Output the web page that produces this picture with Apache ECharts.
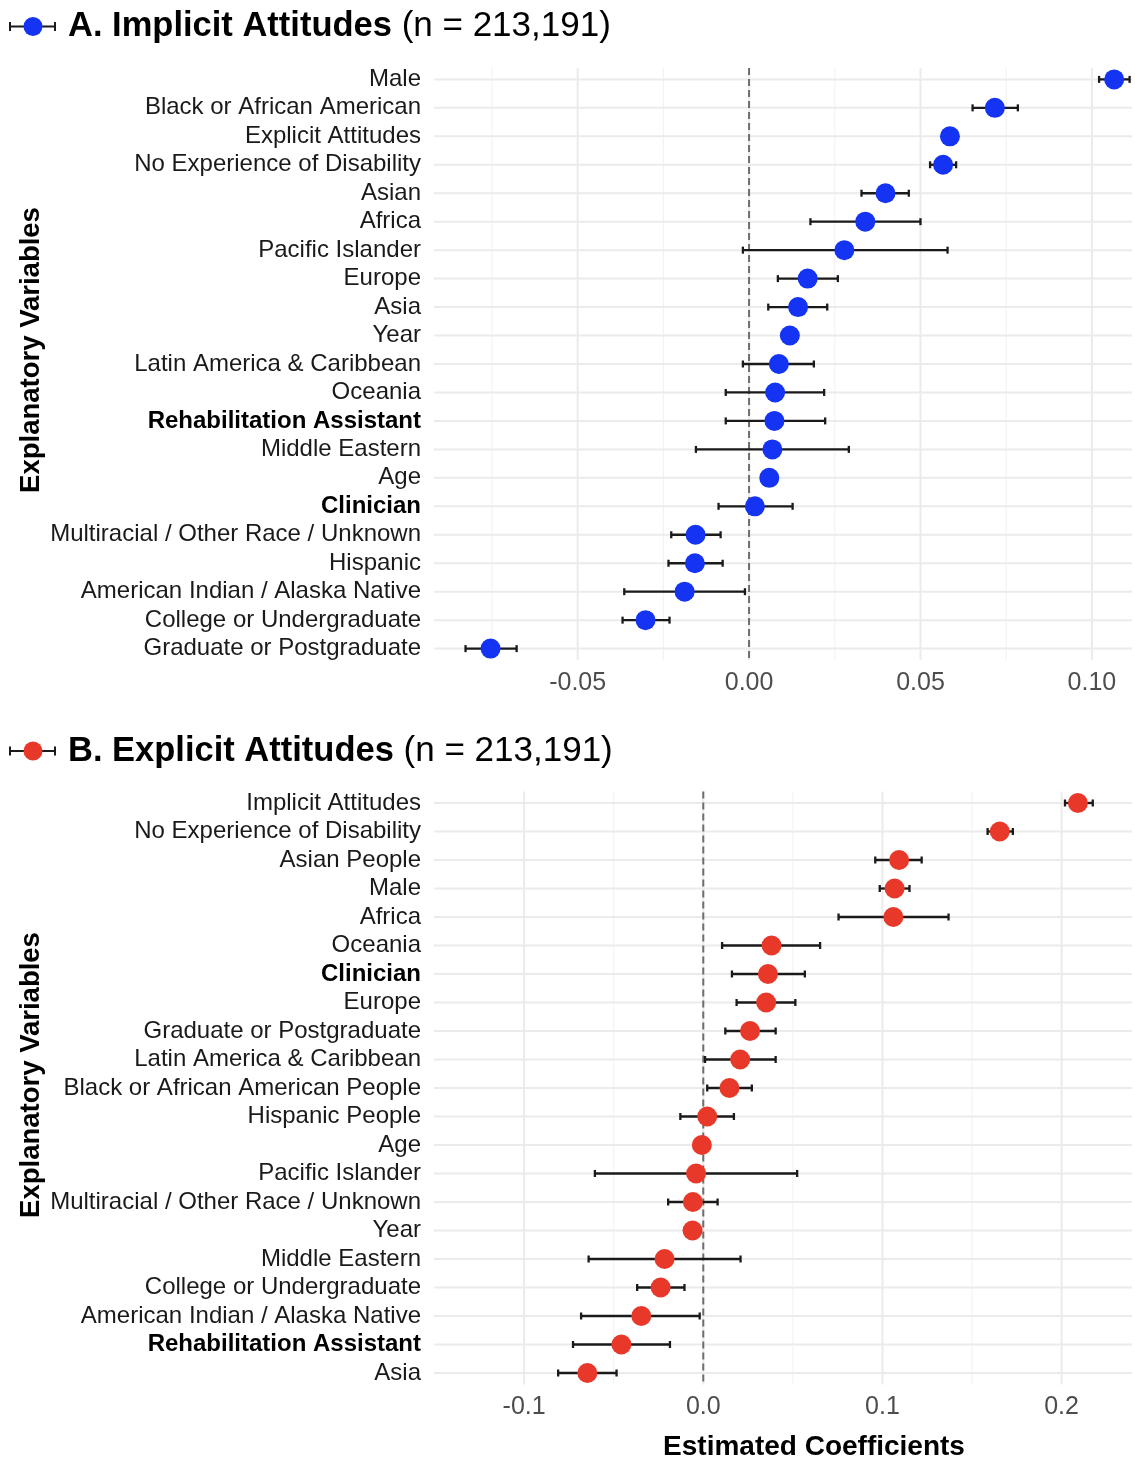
<!DOCTYPE html>
<html><head><meta charset="utf-8">
<script src="https://cdn.jsdelivr.net/npm/echarts@6/dist/echarts.min.js"></script>
<style>html,body{margin:0;padding:0;background:#fff}#c{width:1135px;height:1458px}</style>
</head><body><div id="c"></div>
<script>
// ---------- Panel A: Implicit Attitudes ----------
const categoriesA = ['Male','Black or African American','Explicit Attitudes','No Experience of Disability','Asian','Africa','Pacific Islander','Europe','Asia','Year','Latin America & Caribbean','Oceania','Rehabilitation Assistant','Middle Eastern','Age','Clinician','Multiracial / Other Race / Unknown','Hispanic','American Indian / Alaska Native','College or Undergraduate','Graduate or Postgraduate'];
const coefA = [0.1065,0.0717,0.0586,0.0566,0.0398,0.0339,0.0278,0.0171,0.0143,0.0119,0.0087,0.0076,0.0074,0.0068,0.0059,0.0017,-0.0156,-0.0158,-0.0188,-0.0302,-0.0754];
const lowA  = [0.1021,0.0652,0.0580,0.0528,0.0328,0.0179,-0.0018,0.0084,0.0056,0.0113,-0.0018,-0.0068,-0.0068,-0.0155,0.0055,-0.0089,-0.0227,-0.0235,-0.0364,-0.0369,-0.0827];
const highA = [0.1110,0.0784,0.0592,0.0604,0.0466,0.0500,0.0579,0.0259,0.0228,0.0125,0.0189,0.0219,0.0222,0.0291,0.0063,0.0127,-0.0083,-0.0077,-0.0012,-0.0232,-0.0678];
const boldA = ['Rehabilitation Assistant','Clinician'];
const majorTicksA = [-0.05, 0, 0.05, 0.10];
const tickLabelsA = ['-0.05','0.00','0.05','0.10'];
const minorTicksA = [-0.075, -0.025, 0.025, 0.075];

// ---------- Panel B: Explicit Attitudes ----------
const categoriesB = ['Implicit Attitudes','No Experience of Disability','Asian People','Male','Africa','Oceania','Clinician','Europe','Graduate or Postgraduate','Latin America & Caribbean','Black or African American People','Hispanic People','Age','Pacific Islander','Multiracial / Other Race / Unknown','Year','Middle Eastern','College or Undergraduate','American Indian / Alaska Native','Rehabilitation Assistant','Asia'];
const coefB = [0.2091,0.1655,0.1093,0.1068,0.1061,0.0381,0.0361,0.0351,0.0261,0.0206,0.0146,0.0022,-0.0008,-0.0040,-0.0058,-0.0060,-0.0216,-0.0238,-0.0346,-0.0457,-0.0647];
const lowB  = [0.2019,0.1587,0.0960,0.0985,0.0755,0.0105,0.0160,0.0186,0.0123,0.0010,0.0022,-0.0128,-0.0012,-0.0605,-0.0196,-0.0064,-0.0640,-0.0369,-0.0682,-0.0727,-0.0810];
const highB = [0.2174,0.1728,0.1219,0.1151,0.1369,0.0652,0.0567,0.0514,0.0404,0.0404,0.0271,0.0171,-0.0004,0.0524,0.0080,-0.0056,0.0208,-0.0105,-0.0020,-0.0186,-0.0484];
const boldB = ['Clinician','Rehabilitation Assistant'];
const majorTicksB = [-0.1, 0, 0.1, 0.2];
const tickLabelsB = ['-0.1','0.0','0.1','0.2'];
const minorTicksB = [-0.05, 0.05, 0.15];

const BLUE = '#1433f2', RED = '#e8382a';
const FONT = "'Liberation Sans', Arial, Helvetica, sans-serif";

function yAxisFor(gi, cats, bolds){
  return {
    type:'value', gridIndex:gi, min:-0.4, max:20.4, inverse:true,
    minInterval:1, maxInterval:1,
    axisLine:{show:false}, axisTick:{show:false}, splitLine:{show:false},
    axisLabel:{
      margin:13, color:'#1a1a1a', fontSize:24, fontFamily:FONT,
      formatter:function(v){
        if (Math.abs(v-Math.round(v))>1e-6) return '';
        const name = cats[Math.round(v)];
        if (name===undefined) return '';
        return bolds.indexOf(name)>=0 ? '{b|'+name+'}' : name;
      },
      rich:{b:{fontWeight:'bold', fontSize:24, fontFamily:FONT, color:'#000'}}
    }
  };
}
function xAxisFor(gi, min, max, step, ticks, labels, margin){
  return {
    type:'value', gridIndex:gi, min:min, max:max, minInterval:step, maxInterval:step, splitNumber:5,
    axisLine:{show:false}, axisTick:{show:false}, splitLine:{show:false},
    axisLabel:{
      margin:margin, color:'#4d4d4d', fontSize:25, fontFamily:FONT,
      formatter:function(v){
        for (let i=0;i<ticks.length;i++){ if (Math.abs(v-ticks[i])<1e-9) return labels[i]; }
        return '';
      }
    }
  };
}
function vGridSeries(gi, major, minor){
  return {
    type:'custom', xAxisIndex:gi, yAxisIndex:gi, z:1, silent:true, animation:false,
    data: major.map(v=>[v,1]).concat(minor.map(v=>[v,0])),
    renderItem:function(params, api){
      const cs = params.coordSys;
      const x = api.coord([api.value(0), 0])[0];
      const isMajor = api.value(1)===1;
      return {type:'line', shape:{x1:x, y1:cs.y, x2:x, y2:cs.y+cs.height},
        style:{stroke:isMajor?'#ebebeb':'#f3f3f3', lineWidth:isMajor?2:1.2}};
    }
  };
}
function hGridSeries(gi, cats){
  return {
    type:'custom', xAxisIndex:gi, yAxisIndex:gi, z:1, silent:true, animation:false,
    data: cats.map((c,i)=>[0,i]),
    renderItem:function(params, api){
      const cs = params.coordSys;
      const y = api.coord([0, api.value(1)])[1];
      return {type:'line', shape:{x1:cs.x, y1:y, x2:cs.x+cs.width, y2:y},
        style:{stroke:'#ebebeb', lineWidth:2}};
    }
  };
}
function zeroSeries(gi){
  return {
    type:'custom', xAxisIndex:gi, yAxisIndex:gi, z:1, silent:true, animation:false,
    data:[[0,0]],
    renderItem:function(params, api){
      const cs = params.coordSys;
      const x = api.coord([api.value(0), 0])[0];
      return {type:'line', shape:{x1:x, y1:cs.y, x2:x, y2:cs.y+cs.height},
        style:{stroke:'#6e6e6e', lineWidth:2, lineDash:[7,4]}};
    }
  };
}
function errSeries(gi, cats, low, high){
  return {
    type:'custom', xAxisIndex:gi, yAxisIndex:gi, z:2, silent:true, animation:false,
    data: cats.map((c,i)=>[low[i], high[i], i]),
    encode:{x:[0,1], y:2},
    renderItem:function(params, api){
      const yv = api.value(2);
      const p1 = api.coord([api.value(0), yv]);
      const p2 = api.coord([api.value(1), yv]);
      const h = 3.5;
      const st = {stroke:'#1a1a1a', lineWidth:2.3};
      return {type:'group', children:[
        {type:'line', shape:{x1:p1[0],y1:p1[1],x2:p2[0],y2:p2[1]}, style:st},
        {type:'line', shape:{x1:p1[0],y1:p1[1]-h,x2:p1[0],y2:p1[1]+h}, style:st},
        {type:'line', shape:{x1:p2[0],y1:p2[1]-h,x2:p2[0],y2:p2[1]+h}, style:st}
      ]};
    }
  };
}
function dotSeries(gi, cats, coef, color){
  return {
    type:'scatter', xAxisIndex:gi, yAxisIndex:gi, z:3, animation:false,
    symbol:'circle', symbolSize:20,
    itemStyle:{color:color, opacity:1},
    data: cats.map((c,i)=>[coef[i], i])
  };
}
function titleGraphics(y, color, letter, name){
  const st = {stroke:'#1a1a1a', lineWidth:2};
  return [
    {type:'line', shape:{x1:10,y1:y,x2:55,y2:y}, style:st, z:10},
    {type:'line', shape:{x1:10,y1:y-4.5,x2:10,y2:y+4.5}, style:st, z:10},
    {type:'line', shape:{x1:55,y1:y-4.5,x2:55,y2:y+4.5}, style:st, z:10},
    {type:'circle', shape:{cx:33, cy:y, r:9.5}, style:{fill:color}, z:11},
    {type:'text', x:68, y:y, z:10, style:{
      text:'{b|'+letter+'. '+name+'}{r| (n = 213,191)}',
      verticalAlign:'middle', align:'left', fill:'#000',
      rich:{
        b:{fontSize:34.5, fontWeight:'bold', fontFamily:FONT, fill:'#000', color:'#000'},
        r:{fontSize:35, fontFamily:FONT, fill:'#000', color:'#000'}
      }
    }}
  ];
}

const chart = echarts.init(document.getElementById('c'), null, {renderer:'canvas'});
chart.setOption({
  animation:false,
  backgroundColor:'#ffffff',
  textStyle:{fontFamily:FONT},
  grid:[
    {left:434, right:0, top:68, height:592},
    {left:434, right:0, top:791.6, height:592.8}
  ],
  xAxis:[
    xAxisFor(0, -0.0919, 0.1117, 0.05, majorTicksA, tickLabelsA, 11),
    xAxisFor(1, -0.1503, 0.2393, 0.1, majorTicksB, tickLabelsB, 10)
  ],
  yAxis:[
    yAxisFor(0, categoriesA, boldA),
    yAxisFor(1, categoriesB, boldB)
  ],
  series:[
    vGridSeries(0, majorTicksA, minorTicksA), hGridSeries(0, categoriesA), zeroSeries(0),
    errSeries(0, categoriesA, lowA, highA), dotSeries(0, categoriesA, coefA, BLUE),
    vGridSeries(1, majorTicksB, minorTicksB), hGridSeries(1, categoriesB), zeroSeries(1),
    errSeries(1, categoriesB, lowB, highB), dotSeries(1, categoriesB, coefB, RED)
  ],
  graphic:[].concat(
    titleGraphics(26.5, BLUE, 'A', 'Implicit Attitudes'),
    titleGraphics(751, RED, 'B', 'Explicit Attitudes'),
    [
      {type:'text', x:31, y:350, rotation:Math.PI/2, z:10, style:{text:'Explanatory Variables', fontSize:27.5, fontWeight:'bold', fontFamily:FONT, fill:'#000', align:'center', verticalAlign:'middle'}},
      {type:'text', x:31, y:1075, rotation:Math.PI/2, z:10, style:{text:'Explanatory Variables', fontSize:27.5, fontWeight:'bold', fontFamily:FONT, fill:'#000', align:'center', verticalAlign:'middle'}},
      {type:'text', x:814, y:1447, z:10, style:{text:'Estimated Coefficients', fontSize:28, fontWeight:'bold', fontFamily:FONT, fill:'#000', align:'center', verticalAlign:'middle'}}
    ]
  )
});
</script>
</body></html>
